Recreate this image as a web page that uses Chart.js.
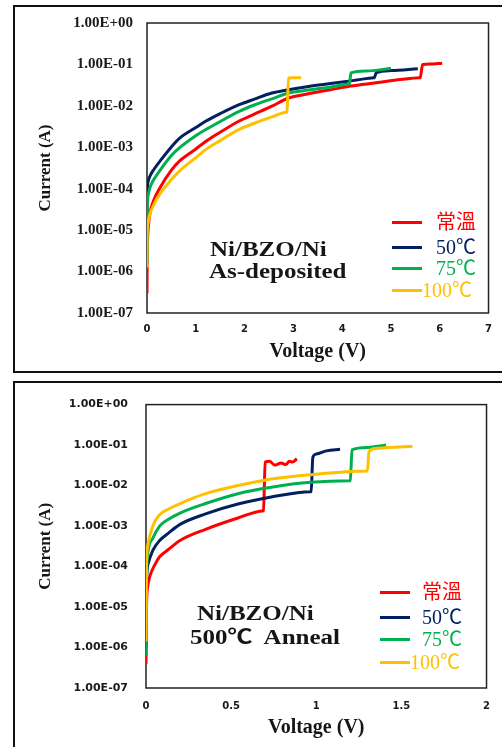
<!DOCTYPE html>
<html>
<head>
<meta charset="utf-8">
<script src="https://cdn.jsdelivr.net/npm/chart.js@4/dist/chart.umd.min.js"></script>
<style>
  body { margin: 0; background: #fff; width: 502px; height: 747px; overflow: hidden; position: relative; }
  .panel { position: absolute; left: 13px; width: 520px; border: 2px solid #111; }
  .plot { position: absolute; left: 0; width: 502px; }
  .note { position: absolute; font: bold 20px "Liberation Serif", "Noto Sans CJK TC", serif; color: #161616;
          line-height: 22px; white-space: nowrap; transform-origin: left center; transform: scaleX(1.25); }
  .key-line { position: absolute; width: 30px; height: 3px; }
  .key-text { position: absolute; font: 20px "Liberation Serif", "Noto Sans CJK TC", serif; line-height: 22px; white-space: nowrap; }
</style>
</head>
<body>
<div class="panel" style="top:5px;height:364px"></div>
<div class="panel" style="top:381px;height:400px"></div>

<div class="plot" style="top:0;height:372px"><canvas id="depChart"></canvas></div>
<div class="plot" style="top:380px;height:367px"><canvas id="annChart"></canvas></div>

<!-- sample labels -->
<div class="note" style="left:210px;top:238px">Ni/BZO/Ni</div>
<div class="note" style="left:209px;top:260px">As-deposited</div>
<div class="note" style="left:197px;top:602px">Ni/BZO/Ni</div>
<div class="note" style="left:190px;top:626px">500℃&nbsp; Anneal</div>

<!-- legends -->
<div id="depKey"></div>
<div id="annKey"></div>

<script>
// series names and colours: room temp, 50, 75, 100 C
const seriesNames = ['常溫', '50℃', '75℃', '100℃'];
const seriesColors = ['#ff0000', '#002060', '#00b050', '#ffc000'];

// log current axis
const currentTicks = [1e-7, 1e-6, 1e-5, 1e-4, 1e-3, 1e-2, 1e-1, 1];
const currentTickLabels = ['1.00E-07', '1.00E-06', '1.00E-05', '1.00E-04', '1.00E-03', '1.00E-02', '1.00E-01', '1.00E+00'];

// as-deposited sweep (V, A)
const depVoltTicks = [0, 1, 2, 3, 4, 5, 6, 7];
const depVoltTickLabels = ['0', '1', '2', '3', '4', '5', '6', '7'];

const depRtV = [0, 0.003, 0.01, 0.03, 0.06, 0.13, 0.27, 0.5, 0.67, 1.0, 1.21, 1.5, 1.89, 2.2, 2.56, 2.9, 3.31, 3.8, 4.17, 4.7, 5.2, 5.59, 5.6, 5.65, 5.8, 6.05];
const depRtI = [3.0e-7, 1.5e-6, 5.0e-6, 1.3e-5, 2.6e-5, 5.0e-5, 1.07e-4, 2.8e-4, 4.7e-4, 9.1e-4, 1.4e-3, 2.3e-3, 4.3e-3, 6.3e-3, 9.8e-3, 1.55e-2, 1.95e-2, 2.5e-2, 3.0e-2, 3.6e-2, 4.3e-2, 4.78e-2, 4.8e-2, 1.0e-1, 1.02e-1, 1.07e-1];

const depT50V = [0, 0.003, 0.01, 0.03, 0.06, 0.13, 0.27, 0.5, 0.67, 1.0, 1.21, 1.5, 1.89, 2.2, 2.56, 2.9, 3.31, 3.8, 4.3, 4.65, 4.66, 4.7, 5.0, 5.55];
const depT50I = [1.5e-6, 3.0e-5, 1.0e-4, 1.6e-4, 2.0e-4, 2.8e-4, 4.7e-4, 1.02e-3, 1.66e-3, 3.0e-3, 4.3e-3, 6.5e-3, 1.07e-2, 1.45e-2, 2.04e-2, 2.45e-2, 2.95e-2, 3.5e-2, 4.2e-2, 4.78e-2, 4.8e-2, 6.3e-2, 7.1e-2, 7.9e-2];

const depT75V = [0, 0.003, 0.01, 0.03, 0.06, 0.13, 0.26, 0.5, 0.67, 1.0, 1.21, 1.5, 1.89, 2.2, 2.56, 2.9, 3.31, 3.8, 4.14, 4.15, 4.18, 4.5, 5.0];
const depT75I = [1.6e-6, 1.5e-5, 4.5e-5, 7.5e-5, 1.05e-4, 1.6e-4, 2.7e-4, 6.3e-4, 9.8e-4, 1.9e-3, 2.7e-3, 4.2e-3, 7.4e-3, 1.05e-2, 1.48e-2, 2.04e-2, 2.4e-2, 2.9e-2, 3.38e-2, 3.4e-2, 6.2e-2, 6.9e-2, 8.1e-2];

const depT100V = [0, 0.003, 0.01, 0.03, 0.06, 0.13, 0.26, 0.5, 0.67, 1.0, 1.21, 1.5, 1.89, 2.2, 2.56, 2.86, 2.87, 2.9, 3.0, 3.16];
const depT100I = [1.26e-6, 6.0e-6, 1.1e-5, 1.7e-5, 2.45e-5, 3.9e-5, 7.4e-5, 1.66e-4, 2.7e-4, 5.6e-4, 8.9e-4, 1.45e-3, 2.7e-3, 3.8e-3, 5.4e-3, 7.05e-3, 7.1e-3, 4.7e-2, 4.8e-2, 4.8e-2];

// 500C anneal sweep (V, A)
const annVoltTicks = [0, 0.5, 1, 1.5, 2];
const annVoltTickLabels = ['0', '0.5', '1', '1.5', '2'];

const annRtV = [0, 0.003, 0.01, 0.023, 0.05, 0.08, 0.13, 0.2, 0.35, 0.54, 0.685, 0.69, 0.70, 0.726, 0.755, 0.794, 0.822, 0.842, 0.86, 0.886];
const annRtI = [4.0e-7, 1.0e-5, 3.2e-5, 5.8e-5, 1.07e-4, 1.74e-4, 2.6e-4, 4.4e-4, 8.3e-4, 1.58e-3, 2.37e-3, 2.4e-3, 3.8e-2, 4.0e-2, 3.2e-2, 3.6e-2, 3.3e-2, 4.0e-2, 3.8e-2, 4.6e-2];

const annT50V = [0, 0.003, 0.013, 0.04, 0.08, 0.13, 0.2, 0.35, 0.54, 0.736, 0.965, 0.97, 0.98, 1.0, 1.06, 1.14];
const annT50I = [1.0e-6, 4.0e-5, 1.2e-4, 2.5e-4, 4.4e-4, 6.6e-4, 1.1e-3, 2.0e-3, 3.5e-3, 5.2e-3, 7.05e-3, 7.1e-3, 5.0e-2, 6.0e-2, 7.2e-2, 7.9e-2];

const annT75V = [0, 0.003, 0.01, 0.04, 0.08, 0.13, 0.2, 0.35, 0.54, 0.736, 0.967, 1.195, 1.2, 1.21, 1.3, 1.41];
const annT75I = [6.3e-7, 5.0e-5, 2.1e-4, 5.0e-4, 1.0e-3, 1.45e-3, 2.1e-3, 3.6e-3, 6.3e-3, 9.1e-3, 1.2e-2, 1.31e-2, 1.32e-2, 7.6e-2, 8.7e-2, 1.0e-1];

const annT100V = [0, 0.003, 0.01, 0.04, 0.08, 0.13, 0.2, 0.35, 0.54, 0.736, 0.967, 1.295, 1.3, 1.31, 1.35, 1.42, 1.565];
const annT100I = [1.4e-6, 1.0e-4, 3.2e-4, 1.0e-3, 1.9e-3, 2.6e-3, 3.6e-3, 6.3e-3, 1.0e-2, 1.45e-2, 1.86e-2, 2.29e-2, 2.3e-2, 6.9e-2, 8.2e-2, 8.7e-2, 9.3e-2];

function pts(v, i) {
    return v.map((x, k) => ({ x: x, y: i[k] }));
}

// box around the plot area
const plotFrame = {
    id: 'plotFrame',
    beforeDatasetsDraw(chart) {
        const { ctx, chartArea: a } = chart;
        ctx.save();
        ctx.strokeStyle = '#222';
        ctx.lineWidth = 1.5;
        ctx.strokeRect(a.left, a.top, a.right - a.left, a.bottom - a.top);
        ctx.restore();
    }
};

function ivChart(id, sets, o) {
    // draw order: 100C on top, room temp at the bottom
    const datasets = sets.map((s, k) => ({
        label: seriesNames[k],
        data: pts(s[0], s[1]),
        borderColor: seriesColors[k],
        borderWidth: 3,
        pointRadius: 0,
        fill: false,
        cubicInterpolationMode: 'monotone',
        order: 3 - k
    }));

    return new Chart(document.getElementById(id), {
        type: 'line',
        data: { datasets },
        plugins: [plotFrame],
        options: {
            responsive: true,
            maintainAspectRatio: false,
            animation: false,
            layout: { padding: { top: o.padTop, right: 10, left: 0, bottom: 0 } },
            plugins: { legend: { display: false }, tooltip: { enabled: false } },
            scales: {
                x: {
                    type: 'linear',
                    min: o.xTicks[0],
                    max: o.xTicks[o.xTicks.length - 1],
                    grid: { display: false, drawTicks: false },
                    border: { display: false },
                    afterBuildTicks: s => { s.ticks = o.xTicks.map(v => ({ value: v })); },
                    afterFit: s => { s.height = 59; },
                    ticks: {
                        padding: o.xTickPad,
                        maxRotation: 0,
                        color: '#1a1a1a',
                        font: { family: 'DejaVu Sans', weight: 'bold', size: 10 },
                        callback: (v, i) => o.xLabels[i]
                    },
                    title: {
                        display: true,
                        text: 'Voltage (V)',
                        color: '#161616',
                        font: { family: 'Liberation Serif', weight: 'bold', size: 20 },
                        padding: { top: 0, bottom: o.xTitlePad }
                    }
                },
                y: {
                    type: 'logarithmic',
                    min: 1e-7,
                    max: 1,
                    grid: { display: false, drawTicks: false },
                    border: { display: false },
                    afterBuildTicks: s => { s.ticks = currentTicks.map(v => ({ value: v })); },
                    afterFit: s => { s.width = o.yWidth; },
                    ticks: {
                        padding: o.yTickPad,
                        color: '#1a1a1a',
                        font: o.yFont,
                        callback: (v, i) => currentTickLabels[i]
                    },
                    title: {
                        display: true,
                        text: 'Current (A)',
                        color: '#161616',
                        font: { family: 'Liberation Serif', weight: 'bold', size: 17 },
                        padding: { top: 35, bottom: 0 }
                    }
                }
            }
        }
    });
}

ivChart('depChart', [[depRtV, depRtI], [depT50V, depT50I], [depT75V, depT75I], [depT100V, depT100I]], {
    padTop: 21, xTicks: depVoltTicks, xLabels: depVoltTickLabels, xTickPad: 10, xTitlePad: 8,
    yWidth: 147, yTickPad: 14, yFont: { family: 'Liberation Serif', weight: 'bold', size: 15 }
});

ivChart('annChart', [[annRtV, annRtI], [annT50V, annT50I], [annT75V, annT75I], [annT100V, annT100I]], {
    padTop: 17, xTicks: annVoltTicks, xLabels: annVoltTickLabels, xTickPad: 12, xTitlePad: 7,
    yWidth: 146, yTickPad: 18, yFont: { family: 'DejaVu Sans', weight: 'bold', size: 11 }
});

// legend rows placed inside each plot area
function drawKey(boxId, lineX, textX, rowsY) {
    const box = document.getElementById(boxId);
    rowsY.forEach((y, k) => {
        const line = document.createElement('div');
        line.className = 'key-line';
        line.style.left = lineX + 'px';
        line.style.top = (y - 1.5) + 'px';
        line.style.background = seriesColors[k];
        const txt = document.createElement('div');
        txt.className = 'key-text';
        // the last entry sits right against its line
        txt.style.left = (k === 3 ? lineX + 30 : textX) + 'px';
        txt.style.top = (y - 11) + 'px';
        txt.style.color = seriesColors[k];
        txt.textContent = seriesNames[k];
        box.appendChild(line);
        box.appendChild(txt);
    });
}

drawKey('depKey', 392, 436, [222, 247, 268, 290]);
drawKey('annKey', 380, 422, [592, 617, 639, 662]);
</script>
</body>
</html>
